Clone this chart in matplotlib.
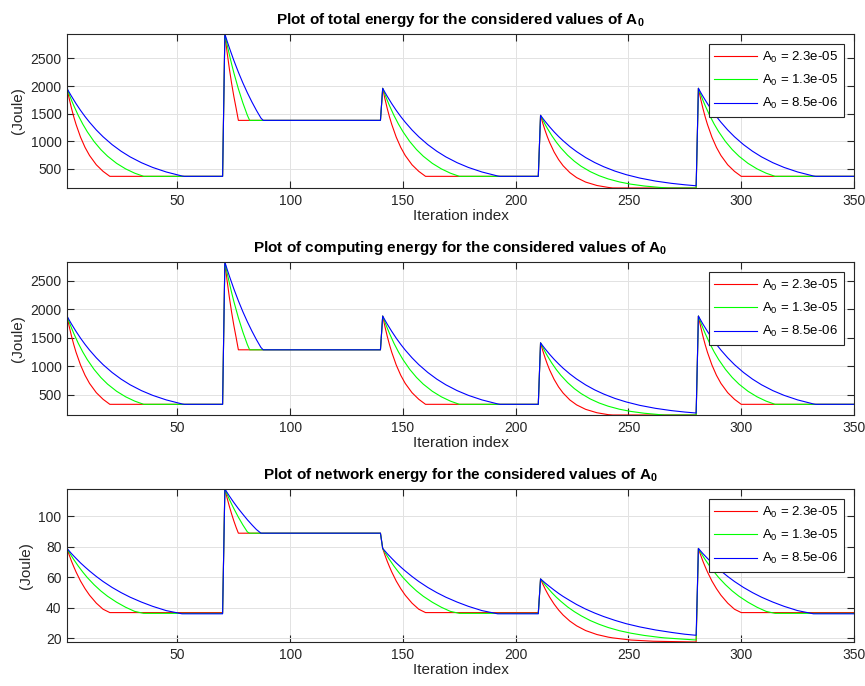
import matplotlib
matplotlib.use('Agg')
import matplotlib.pyplot as plt

plt.rcParams['font.family'] = ['Liberation Sans', 'DejaVu Sans']
plt.rcParams['mathtext.fontset'] = 'custom'
plt.rcParams['mathtext.rm'] = 'Liberation Sans'
plt.rcParams['mathtext.bf'] = 'Liberation Sans:bold'

# ---------------- data ----------------
segment_starts = [1, 71, 141, 211, 281]
segment_kinds = ['A', 'B', 'A', 'C', 'A']

legend_labels = [r'A$_\mathregular{0}$ = 2.3e-05',
                 r'A$_\mathregular{0}$ = 1.3e-05',
                 r'A$_\mathregular{0}$ = 8.5e-06']
series_colors = ['#ff0000', '#00ff00', '#0000ff']

# iteration offsets (inside each 70-iteration segment) where values were read
red_knots = {'A': [0, 1, 2, 3, 4, 6, 8, 10, 13, 16, 19, 69],
             'B': [0, 1, 2, 3, 4, 5, 6, 69],
             'C': [0, 1, 2, 3, 4, 6, 8, 10, 13, 16, 20, 25, 30, 32, 40, 50, 69]}
green_knots = {'A': [0, 1, 2, 3, 5, 7, 9, 12, 15, 18, 22, 26, 30, 34, 69],
               'B': [0, 1, 2, 3, 4, 6, 8, 10, 11, 69],
               'C': [0, 1, 2, 3, 5, 7, 9, 12, 15, 18, 22, 26, 30, 35, 40, 46, 53, 55, 57, 69]}
blue_knots = {'A': [0, 1, 2, 4, 6, 8, 10, 13, 16, 20, 24, 28, 33, 38, 44, 51, 52, 69],
              'B': [0, 1, 2, 4, 6, 8, 10, 12, 14, 16, 17, 69],
              'C': [0, 1, 2, 4, 6, 8, 10, 13, 16, 20, 24, 28, 33, 38, 44, 51, 58, 64, 69]}

# ---- total energy ----
total_red = {'A': [1960, 1768, 1597, 1444, 1308, 1076, 891, 744, 576, 457, 367, 367],
             'B': [2943, 2611, 2314, 2048, 1811, 1599, 1380, 1380],
             'C': [1471, 1327, 1199, 1084, 982, 808, 670, 559, 434, 344, 263, 201.5, 166.5, 157, 156, 156, 156]}
total_green = {'A': [1960, 1849, 1744, 1647, 1469, 1312, 1174, 997, 851, 731, 602, 502, 424.5, 367, 367],
               'B': [2943, 2750, 2569, 2399, 2240, 1950, 1695, 1470, 1380, 1380],
               'C': [1471, 1388, 1309, 1236, 1103, 985, 882, 749, 640, 549, 453, 378, 320, 265.5, 225.6, 192, 166, 160.7, 156, 156]}
total_blue = {'A': [1960, 1886, 1816, 1683, 1561, 1449, 1346, 1206, 1083, 941, 821, 719, 614, 528, 446, 373, 367, 367],
              'B': [2943, 2815, 2693, 2463, 2252, 2057, 1878, 1713, 1561, 1422, 1380, 1380],
              'C': [1471, 1416, 1363, 1264, 1172, 1088, 1011, 906, 814, 707, 617, 541, 461.5, 397, 336, 281, 240.5, 214, 196]}

# ---- computing energy ----
comp_red = {'A': [1878, 1692, 1526, 1378, 1245, 1021, 841, 698, 536, 420, 332, 332],
            'B': [2825, 2498, 2206, 1945, 1711, 1503, 1287, 1287],
            'C': [1409, 1270.5, 1147, 1036, 937, 770, 636, 530, 408, 322, 244, 184.6, 151, 145, 145, 145, 145]}
comp_green = {'A': [1878, 1770, 1669, 1574, 1401, 1249, 1115, 944, 802.5, 685.5, 560.5, 463.7, 388.5, 332, 332],
              'B': [2825, 2635, 2457, 2290, 2133, 1848, 1597, 1376, 1287, 1287],
              'C': [1409, 1329, 1253, 1182, 1054, 940, 840.5, 713, 607, 520, 427, 355, 299, 246, 208, 175.6, 150.6, 145, 145, 145]}
comp_blue = {'A': [1878, 1807, 1738, 1610, 1491, 1382, 1282, 1147, 1027, 890, 773, 674, 572, 489, 409.5, 338.7, 332, 332],
             'B': [2825, 2699.5, 2579, 2353, 2145, 1953, 1777, 1615, 1465, 1328, 1287, 1287],
             'C': [1409, 1356, 1305, 1209, 1121, 1040, 965, 864, 775, 672, 585, 512, 435, 373.5, 314, 261.6, 222.2, 196.6, 179.5]}

# ---- network energy ----
net_red = {'A': [79, 74.6, 70.6, 67.0, 63.6, 57.6, 52.6, 48.3, 43.1, 39.1, 36.9, 36.9],
           'B': [118, 112.1, 106.6, 101.6, 97.0, 92.8, 89, 89],
           'C': [59, 55.6, 52.5, 49.7, 47.1, 42.5, 38.6, 35.3, 31.3, 28.2, 25.1, 22.5, 20.8, 20.3, 18.9, 18.1, 17.6]}
net_green = {'A': [79, 76.4, 74.0, 71.7, 67.4, 63.5, 59.9, 55.2, 51.1, 47.6, 43.7, 40.4, 37.7, 36.4, 36.4],
             'B': [118, 114.5, 111.2, 108.1, 105.1, 99.5, 94.4, 89.8, 89, 89],
             'C': [59, 57.0, 55.1, 53.4, 50.0, 47.0, 44.3, 40.6, 37.5, 34.8, 31.7, 29.2, 27.1, 25.0, 23.4, 21.9, 20.6, 20.3, 20.1, 18.9]}
net_blue = {'A': [79, 77.3, 75.6, 72.5, 69.5, 66.8, 64.2, 60.6, 57.3, 53.4, 50.0, 47.0, 43.8, 41.0, 38.2, 36.1, 36.1, 36.1],
            'B': [118, 115.7, 113.4, 109.1, 105.1, 101.4, 97.8, 94.5, 91.4, 89, 89, 89],
            'C': [59, 57.7, 56.4, 54.0, 51.7, 49.5, 47.5, 44.8, 42.2, 39.2, 36.6, 34.3, 31.8, 29.6, 27.5, 25.5, 23.9, 22.7, 22.0]}

titles = ['total', 'computing', 'network']
x_ticks = [50, 100, 150, 200, 250, 300, 350]
y_ticks = [[500, 1000, 1500, 2000, 2500],
           [500, 1000, 1500, 2000, 2500],
           [20, 40, 60, 80, 100]]

panels = [(total_red, total_green, total_blue),
          (comp_red, comp_green, comp_blue),
          (net_red, net_green, net_blue)]
knots_by_color = [red_knots, green_knots, blue_knots]


def build_series(knots, values):
    xs, ys = [], []
    for start, kind in zip(segment_starts, segment_kinds):
        xs += [start + k for k in knots[kind]]
        ys += list(values[kind])
    return xs, ys


# ---------------- figure ----------------
W, H = 865, 686
fig = plt.figure(figsize=(W / 100, H / 100), dpi=100)
axes_px = [(67, 34, 854, 188), (67, 262, 854, 415), (67, 489, 854, 642)]
axcol = '#262626'

for i, (left, top, right, bottom) in enumerate(axes_px):
    ax = fig.add_axes([left / W, 1 - bottom / H, (right - left) / W, (bottom - top) / H])
    ymin, ymax = 1e9, -1e9
    for knots, vals, col, lab in zip(knots_by_color, panels[i], series_colors, legend_labels):
        xs, ys = build_series(knots, vals)
        ax.plot(xs, ys, color=col, lw=0.8, label=lab)
        ymin = min(ymin, min(ys))
        ymax = max(ymax, max(ys))
    ax.set_xlim(1, 350)
    ax.set_ylim(ymin, ymax)
    ax.set_xticks(x_ticks)
    ax.set_yticks(y_ticks[i])
    ax.grid(True, color='#e2e2e2', lw=0.7)
    ax.set_axisbelow(True)
    ax.tick_params(direction='in', length=5, width=0.8, colors=axcol, labelsize=10,
                   top=True, right=True, pad=4)
    for s in ax.spines.values():
        s.set_color(axcol)
        s.set_linewidth(0.8)
    ax.set_xlabel('Iteration index', fontsize=11, color=axcol, labelpad=1)
    ax.set_ylabel('(Joule)', fontsize=11, color=axcol, labelpad=4)
    ax.set_title(r'Plot of %s energy for the considered values of A$_{\mathbf{0}}$' % titles[i],
                 fontsize=11, fontweight='bold', pad=7)
    leg = ax.legend(loc='upper right', fontsize=9.5, handlelength=3.26, labelspacing=0.62,
                    borderaxespad=0.76, fancybox=False, framealpha=1, borderpad=0.42,
                    handletextpad=0.38)
    leg.get_frame().set_edgecolor(axcol)
    leg.get_frame().set_linewidth(0.8)

fig.savefig('out.png', dpi=100)
